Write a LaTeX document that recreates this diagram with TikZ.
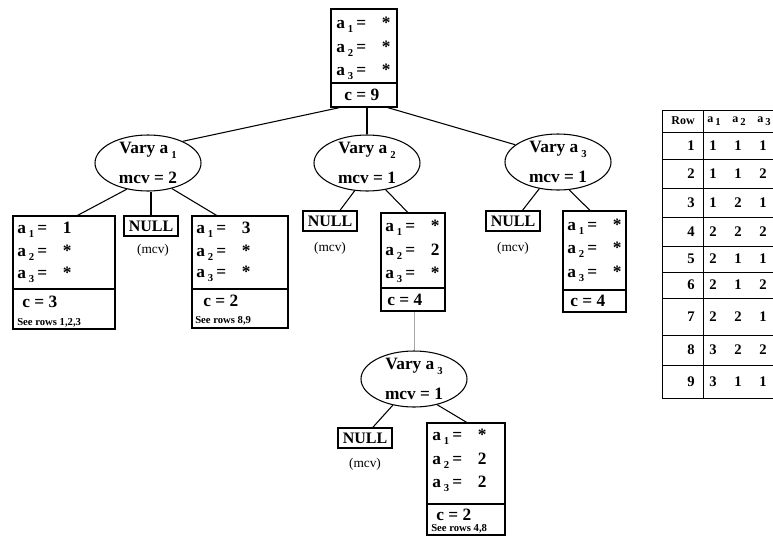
\documentclass[tikz,border=0pt]{standalone}
\usepackage{fontspec}
\setmainfont{Liberation Serif}
\usetikzlibrary{fit,shapes.geometric,calc}

% subscript digit used after a variable letter
\newcommand\sbs[1]{\,\raisebox{-0.55ex}{\fontsize{8}{8}\selectfont #1}}
% one assignment line "a_i = v" with aligned columns
\newcommand\asg[2]{\makebox[15pt][l]{a\sbs{#1}}\makebox[18pt][l]{=}\makebox[9pt]{#2}}

\tikzset{
  every node/.style={font=\bfseries\fontsize{13}{15}\selectfont},
  vbox/.style={draw, line width=0.8pt, inner sep=0pt},
  nullbox/.style={draw, line width=0.8pt, inner sep=1pt, minimum width=40.5pt, minimum height=15pt,
                  font=\bfseries\fontsize{12}{14}\selectfont},
  vary/.style={draw, ellipse, line width=0.8pt, inner sep=0pt, minimum width=79.5pt, minimum height=42pt},
  varytxt/.style={align=center, inner sep=0pt, font=\bfseries\fontsize{13}{22}\selectfont},
  ln/.style={anchor=base west, inner sep=0pt},
  cln/.style={anchor=base west, inner sep=0pt},
  note/.style={anchor=base west, inner sep=0pt, font=\bfseries\fontsize{8}{9}\selectfont},
  mcvlbl/.style={inner sep=0pt, font=\fontsize{10}{12}\selectfont},
  link/.style={line width=0.8pt},
  faint/.style={line width=0.5pt, gray!70},
  tcell/.style={inner sep=0pt, font=\bfseries\fontsize{11}{12}\selectfont},
  thead/.style={inner sep=0pt, font=\bfseries\fontsize{9}{10}\selectfont},
  grid/.style={line width=0.7pt},
}

\begin{document}
\begin{tikzpicture}[x=0.75pt,y=-0.75pt]
\useasboundingbox (0,0) rectangle (773,536);

% ---------- root ----------
\node[vbox, fit={(331,9) (397,107)}] (r) {};
\draw[link] (r.west |- 0,83) -- (r.east |- 0,83);
\node[ln] (r-1) at (336,28) {\asg{1}{*}};
\node[ln] (r-2) at (336,52) {\asg{2}{*}};
\node[ln] (r-3) at (336,75) {\asg{3}{*}};
\node[cln] (r-c) at (344,100) {c = 9};

% ---------- first level ----------
\node[vary] (v1) at (148,163) {};
\node[varytxt] (v1t) at (v1) {Vary a\sbs{1}\\mcv = 2};
\node[vary] (v2) at (367,163) {};
\node[varytxt] (v2t) at (v2) {Vary a\sbs{2}\\mcv = 1};
\node[vary] (v3) at (558,162) {};
\node[varytxt] (v3t) at (v3) {Vary a\sbs{3}\\mcv = 1};

% children of Vary a1
\node[vbox, fit={(13,216) (115,329)}] (b1) {};
\draw[link] (b1.west |- 0,289) -- (b1.east |- 0,289);
\node[ln] (b1-1) at (17,233) {\asg{1}{1}};
\node[ln] (b1-2) at (17,256) {\asg{2}{*}};
\node[ln] (b1-3) at (17,278) {\asg{3}{*}};
\node[cln] (b1-c) at (22,307) {c = 3};
\node[note] (b1-n) at (17,325) {See rows 1,2,3};

\node[nullbox] (n1) at (151,226) {NULL};
\node[mcvlbl] (n1m) at (153,250) {(mcv)};

\node[vbox, fit={(192,216) (288,328)}] (b3) {};
\draw[link] (b3.west |- 0,289) -- (b3.east |- 0,289);
\node[ln] (b3-1) at (196,233) {\asg{1}{3}};
\node[ln] (b3-2) at (196,256) {\asg{2}{*}};
\node[ln] (b3-3) at (196,277) {\asg{3}{*}};
\node[cln] (b3-c) at (203,306) {c = 2};
\node[note] (b3-n) at (195,323) {See rows 8,9};

% children of Vary a2
\node[nullbox] (n2) at (330,221) {NULL};
\node[mcvlbl] (n2m) at (330,248) {(mcv)};

\node[vbox, fit={(381,213) (445,311)}] (b2) {};
\draw[link] (b2.west |- 0,288) -- (b2.east |- 0,288);
\node[ln] (b2-1) at (385,231) {\asg{1}{*}};
\node[ln] (b2-2) at (385,255) {\asg{2}{2}};
\node[ln] (b2-3) at (385,278) {\asg{3}{*}};
\node[cln] (b2-c) at (387,305) {c = 4};

% children of Vary a3
\node[nullbox] (n3) at (513,221) {NULL};
\node[mcvlbl] (n3m) at (513,248) {(mcv)};

\node[vbox, fit={(563,211) (626,312)}] (b4) {};
\draw[link] (b4.west |- 0,290) -- (b4.east |- 0,290);
\node[ln] (b4-1) at (567,230) {\asg{1}{*}};
\node[ln] (b4-2) at (567,253) {\asg{2}{*}};
\node[ln] (b4-3) at (567,277) {\asg{3}{*}};
\node[cln] (b4-c) at (570,306) {c = 4};

% ---------- second level under Vary a2 ----------
\node[vary] (v4) at (414,379) {};
\node[varytxt] (v4t) at (v4) {Vary a\sbs{3}\\mcv = 1};

\node[nullbox] (n4) at (365,438) {NULL};
\node[mcvlbl] (n4m) at (365,464) {(mcv)};

\node[vbox, fit={(427,423) (505,535)}] (b5) {};
\draw[link] (b5.west |- 0,504) -- (b5.east |- 0,504);
\node[ln] (b5-1) at (432,440) {\asg{1}{*}};
\node[ln] (b5-2) at (432,464) {\asg{2}{2}};
\node[ln] (b5-3) at (432,487) {\asg{3}{2}};
\node[cln] (b5-c) at (436,520) {c = 2};
\node[note] (b5-n) at (431,531) {See rows 4,8};

% ---------- connectors ----------
\draw[link] ($(r.south west)!0.14!(r.south east)$) -- (v1.32);
\draw[link] (v2.north |- r.south) -- (v2.north);
\draw[link] ($(r.south west)!0.85!(r.south east)$) -- (v3.158);

\draw[link] (v1.231) -- ($(b1.north west)!0.63!(b1.north east)$);
\draw[link] (n1.north |- v1.south) -- (n1.north);
\draw[link] (v1.-47) -- ($(b3.north west)!0.26!(b3.north east)$);

\draw[link] (v2.-114) -- ($(n2.north west)!0.68!(n2.north east)$);
\draw[link] (v2.-55) -- ($(b2.north west)!0.42!(b2.north east)$);

\draw[link] (v3.-125) -- ($(n3.north west)!0.67!(n3.north east)$);
\draw[link] (v3.-68) -- ($(b4.north west)!0.43!(b4.north east)$);

\draw[faint] (v4.north |- b2.south) -- (v4.north);
\draw[link] (v4.-129) -- ($(n4.north west)!0.64!(n4.north east)$);
\draw[link] (v4.-48) -- ($(b5.north west)!0.51!(b5.north east)$);

% ---------- table of rows ----------
\begin{scope}
\clip (600,100) rectangle (773,420);
\draw[grid] (662,110) rectangle (800,398);
\draw[grid] (703,110) -- (703,398);
\foreach \yy in {132,159,188,217,246,272,298,335,365}
  \draw[grid] (662,\yy) -- (800,\yy);
\node[thead] (hrow) at (683,121) {Row};
\node[thead] (ha1) at (714,121) {a\sbs{1}};
\node[thead] (ha2) at (739,121) {a\sbs{2}};
\node[thead] (ha3) at (764,121) {a\sbs{3}};
\foreach \i/\yc/\p/\q/\s in {1/145.5/1/1/1, 2/173.5/1/1/2, 3/202.5/1/2/1, 4/231.5/2/2/2,
    5/259/2/1/1, 6/285/2/1/2, 7/316.5/2/2/1, 8/350/3/2/2, 9/381.5/3/1/1}{
  \node[tcell] (row\i) at (691,\yc) {\i};
  \node[tcell] (row\i-a) at (713,\yc) {\p};
  \node[tcell] (row\i-b) at (738,\yc) {\q};
  \node[tcell] (row\i-c) at (763,\yc) {\s};
}
\end{scope}
\end{tikzpicture}
\end{document}
